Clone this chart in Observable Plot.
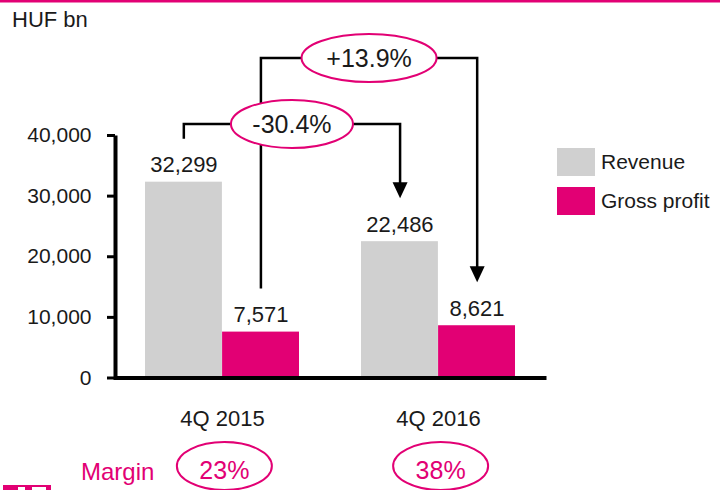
<!DOCTYPE html>
<html><head><meta charset="utf-8">
<script src="https://cdn.jsdelivr.net/npm/d3@7"></script>
<script src="https://cdn.jsdelivr.net/npm/@observablehq/plot@0.6"></script>
<style>
body{margin:0;background:#fff;}
#chart svg{display:block;}
</style></head><body><div id="chart"></div>
<script>
const categories = ["4Q 2015", "4Q 2016"];
const series = ["Revenue", "Gross profit"];
const revenue = [32299, 22486];
const grossProfit = [7571, 8621];
const changeLabels = ["-30.4%", "+13.9%"]; // revenue change, gross profit change
const marginLabels = ["23%", "38%"];
const yTicks = [0, 10000, 20000, 30000, 40000];
const unitLabel = "HUF bn";
const marginTitle = "Margin";
const seriesColors = ["#d0d0d0", "#e20074"];

const MAGENTA = "#e20074";
const W = 720, H = 490;
const mL = 115, mR = 174, mT = 135, mB = 112.5;
const padIn = 0.287, padOut = 0.14;
const FONT = "'Liberation Sans', Arial, Helvetica, sans-serif";

const xBand = d3.scaleBand().domain(categories).range([mL, W - mR]).paddingInner(padIn).paddingOuter(padOut);
const bw = xBand.bandwidth();
const rows = categories.map((c, i) => ({category: c, revenue: revenue[i], gross: grossProfit[i]}));
const fmt = d3.format(",");
const frameW = W - mL - mR, frameH = H - mT - mB;

const chart = Plot.plot({
  width: W, height: H, marginLeft: mL, marginRight: mR, marginTop: mT, marginBottom: mB,
  style: {fontFamily: FONT, fontSize: "21px", color: "#1a1a1a", background: "white", overflow: "visible"},
  x: {domain: categories, paddingInner: padIn, paddingOuter: padOut},
  y: {domain: [0, 40000]},
  color: {domain: series, range: seriesColors},
  marks: [
    Plot.barY(rows, {x: "category", y: "revenue", fill: () => series[0], insetRight: bw / 2}),
    Plot.barY(rows, {x: "category", y: "gross", fill: () => series[1], insetLeft: bw / 2}),
    Plot.frame({stroke: "black", strokeWidth: 4, strokeDasharray: `0 ${frameW + frameH} ${frameW + frameH}`}),
    Plot.axisY({ticks: yTicks, tickSize: 8, tickPadding: 16, tickFormat: d => fmt(d), strokeWidth: 3, stroke: "black", fontSize: 21, label: null}),
    Plot.axisX({tickSize: 0, tickPadding: 32, fontSize: 22, label: null}),
    Plot.text(rows, {x: "category", y: "revenue", text: d => fmt(d.revenue), dx: -bw / 4, dy: -10, lineAnchor: "bottom", fontSize: 22}),
    Plot.text(rows, {x: "category", y: "gross", text: d => fmt(d.gross), dx: bw / 4, dy: -10, lineAnchor: "bottom", fontSize: 22})
  ]
});
document.getElementById("chart").appendChild(chart);

// Annotations positioned with the plot's own scales
const svg = d3.select(chart);
const xs = chart.scale("x"), ys = chart.scale("y"), cs = chart.scale("color");
const xf = d3.scaleBand().domain(xs.domain).range(xs.range)
  .paddingInner(xs.paddingInner ?? padIn).paddingOuter(xs.paddingOuter ?? padOut).align(xs.align ?? 0.5);
const yf = d3.scaleLinear().domain(ys.domain).range(ys.range);
const xbw = xf.bandwidth();
const revX = c => xf(c) + xbw / 4;
const gpX = c => xf(c) + 3 * xbw / 4;
const yTop = yf(d3.max(yTicks));
const gap = 43, head = 16, headW = 7.5;

const ann = svg.append("g").attr("font-family", FONT).attr("text-anchor", "start");
const brackets = [
  {x1: revX(categories[0]), y1: yf(revenue[0]) - gap, x2: revX(categories[1]), y2: yf(revenue[1]) - gap, level: yTop - 11, label: changeLabels[0], rx: 61},
  {x1: gpX(categories[0]), y1: yf(grossProfit[0]) - gap, x2: gpX(categories[1]), y2: yf(grossProfit[1]) - gap, level: yTop - 77, label: changeLabels[1], rx: 67.5}
];
for (const b of brackets) {
  ann.append("path")
    .attr("d", `M${b.x1},${b.y1}V${b.level}H${b.x2}V${b.y2 - head + 1}`)
    .attr("fill", "none").attr("stroke", "black").attr("stroke-width", 2.5);
  ann.append("path")
    .attr("d", `M${b.x2 - headW},${b.y2 - head}L${b.x2 + headW},${b.y2 - head}L${b.x2},${b.y2}Z`)
    .attr("fill", "black");
}
for (const b of brackets) {
  const cx = (b.x1 + b.x2) / 2;
  ann.append("ellipse").attr("cx", cx).attr("cy", b.level).attr("rx", b.rx).attr("ry", 24)
    .attr("fill", "white").attr("stroke", MAGENTA).attr("stroke-width", 2);
  ann.append("text").attr("x", cx).attr("y", b.level).attr("dy", "0.36em")
    .attr("text-anchor", "middle").attr("font-size", 25).attr("fill", "#1a1a1a").text(b.label);
}

// Unit label
ann.append("text").attr("x", 12).attr("y", 27).attr("text-anchor", "start").attr("font-size", 22).attr("fill", "#1a1a1a").text(unitLabel);

// Legend
const legendColors = cs && cs.range ? cs.range : seriesColors;
series.forEach((s, i) => {
  const y0 = 148 + i * 39;
  ann.append("rect").attr("x", 557).attr("y", y0).attr("width", 38).attr("height", 28).attr("fill", legendColors[i]);
  ann.append("text").attr("x", 601).attr("y", y0 + 14).attr("dy", "0.35em").attr("text-anchor", "start").attr("font-size", 21)
    .attr("fill", "#1a1a1a").text(s);
});

// Margin row
ann.append("text").attr("x", 81).attr("y", 480).attr("text-anchor", "start").attr("font-size", 24).attr("fill", MAGENTA).text(marginTitle);
categories.forEach((c, i) => {
  const cx = xf(c) + xbw / 2 + 2;
  ann.append("ellipse").attr("cx", cx).attr("cy", 466).attr("rx", 47.5).attr("ry", 24)
    .attr("fill", "white").attr("stroke", MAGENTA).attr("stroke-width", 2);
  ann.append("text").attr("x", cx).attr("y", 479).attr("text-anchor", "middle").attr("font-size", 25)
    .attr("fill", MAGENTA).text(marginLabels[i]);
});

// Decorative brand elements
ann.append("rect").attr("x", 0).attr("y", 0).attr("width", W).attr("height", 2.5).attr("fill", MAGENTA);
ann.append("rect").attr("x", 3).attr("y", 485).attr("width", 48).attr("height", 5).attr("fill", MAGENTA);
ann.append("rect").attr("x", 18).attr("y", 487).attr("width", 7).attr("height", 3).attr("fill", "white");
ann.append("rect").attr("x", 32).attr("y", 487).attr("width", 14).attr("height", 3).attr("fill", "white");
</script>
</body></html>
